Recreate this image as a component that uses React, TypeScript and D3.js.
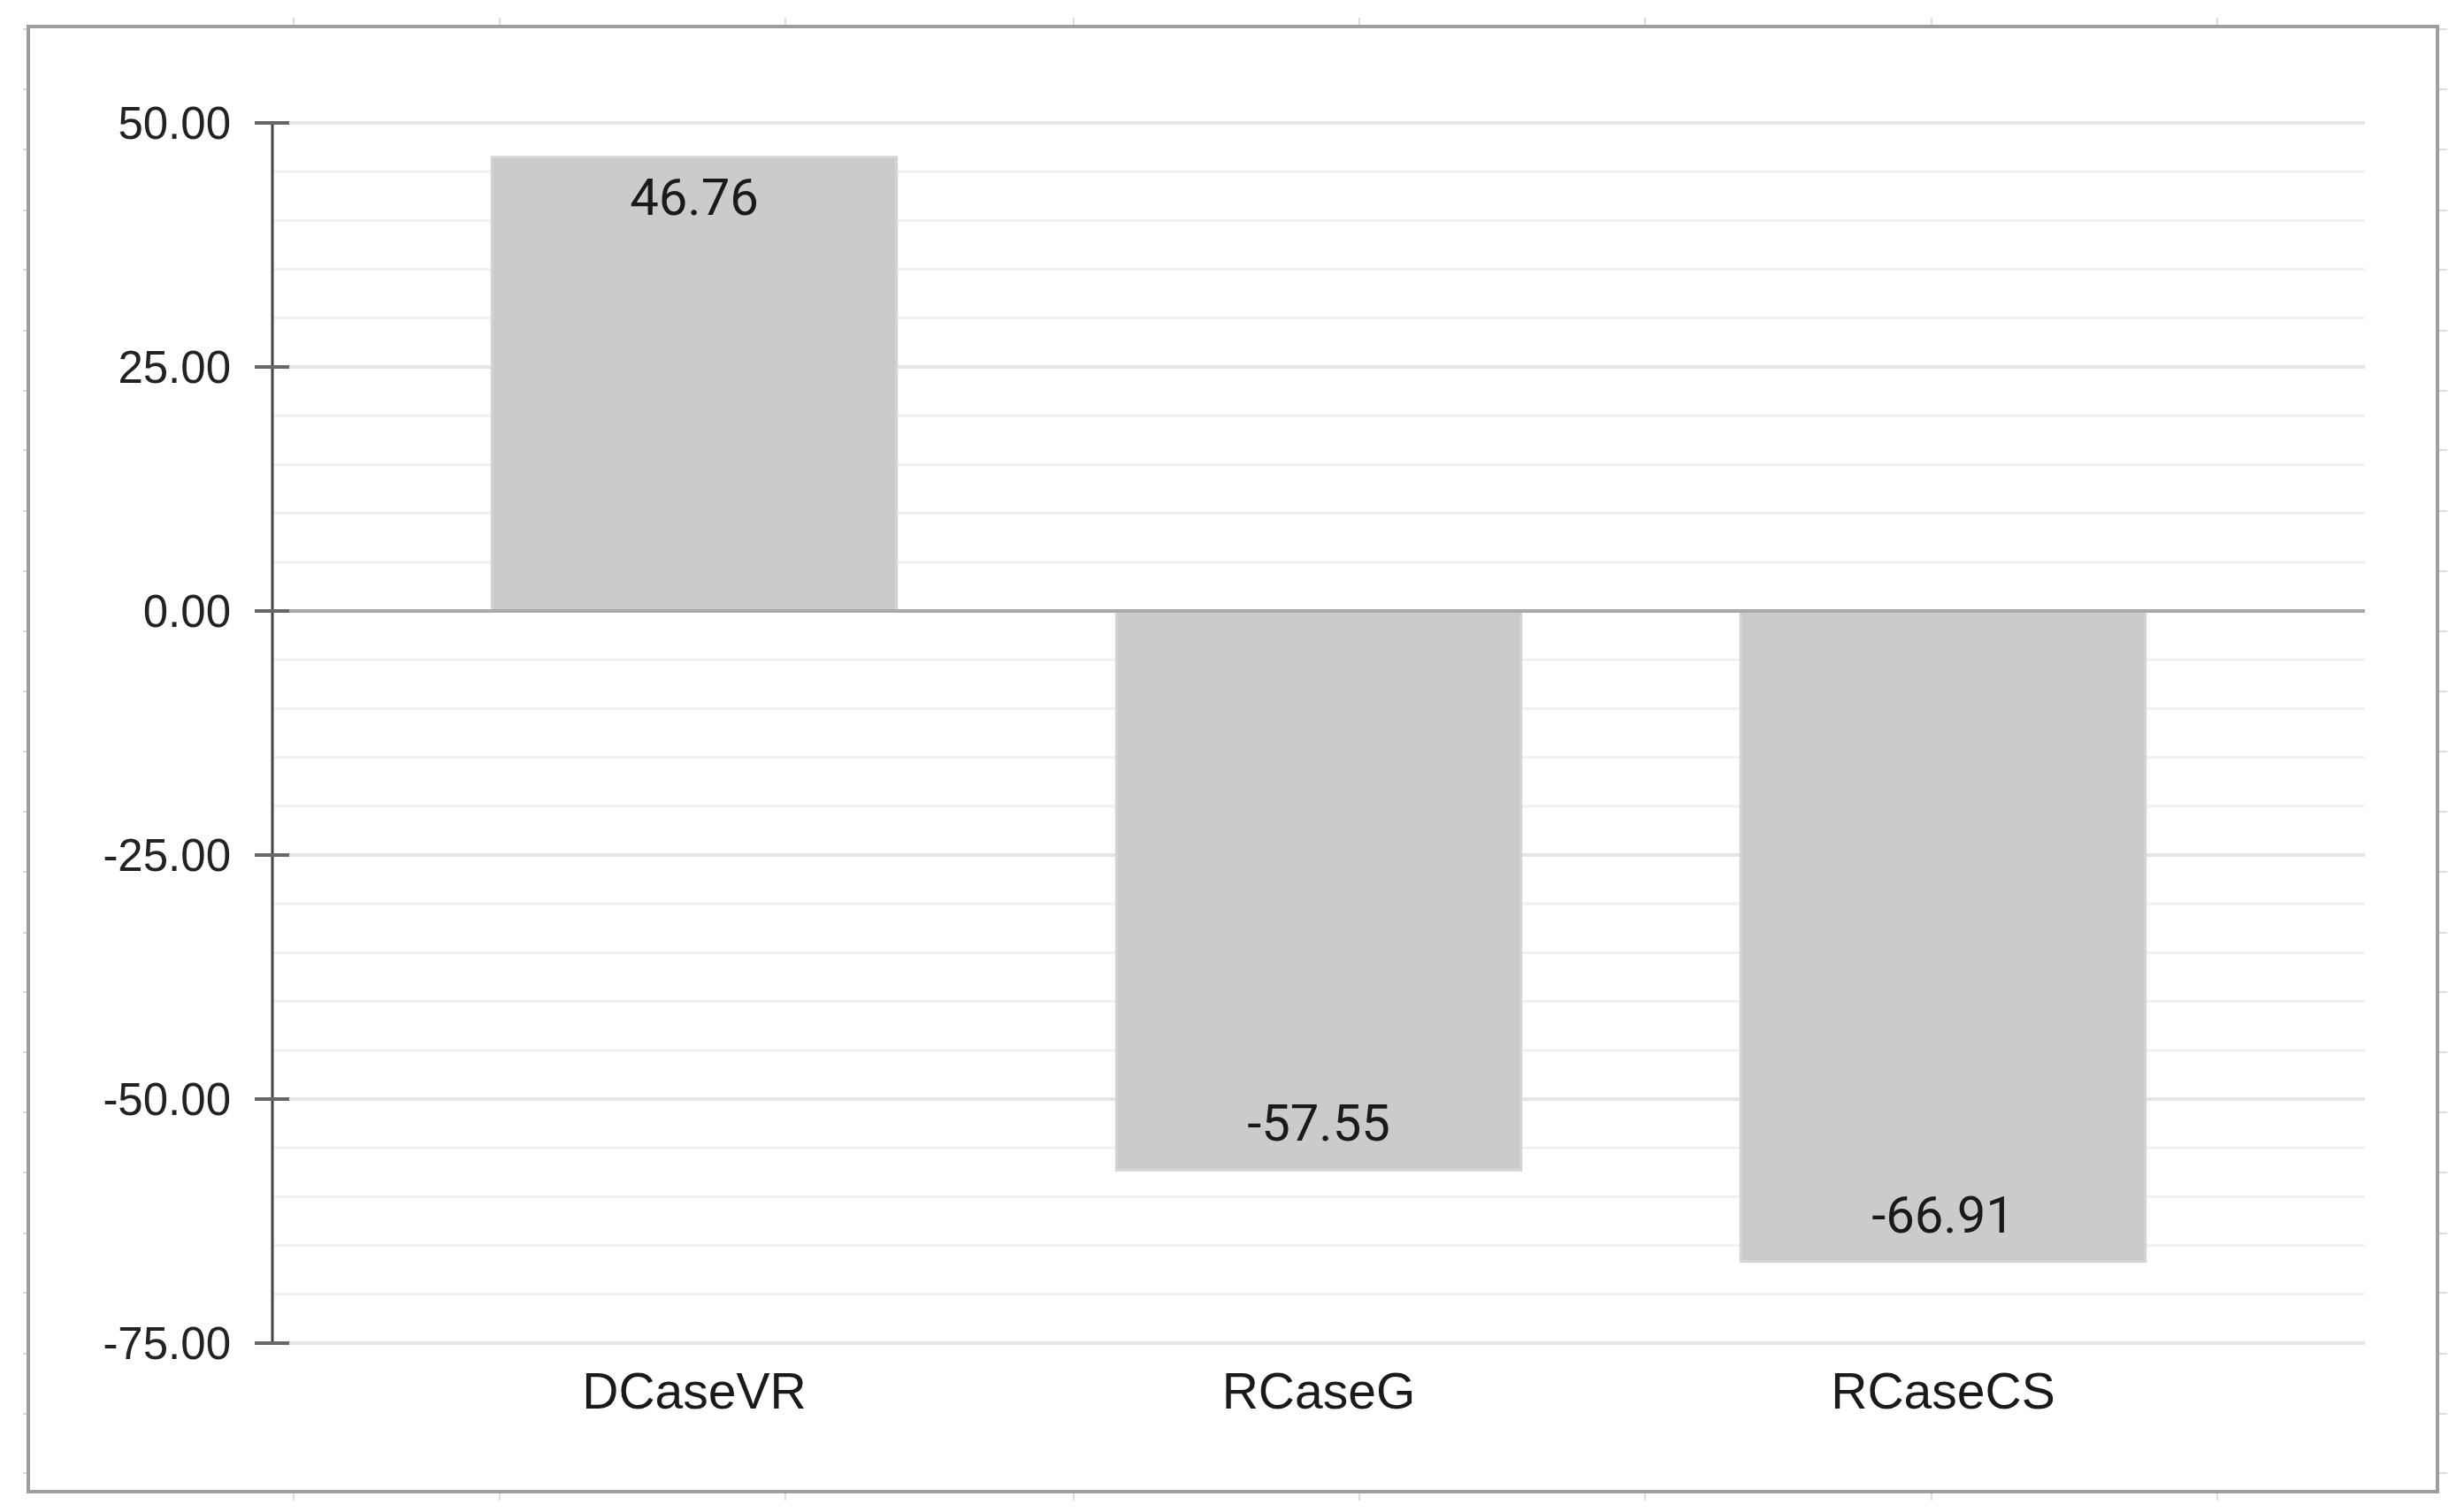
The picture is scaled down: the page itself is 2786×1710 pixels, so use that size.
import React from "react";
import * as d3 from "d3";

const categories = ["DCaseVR", "RCaseG", "RCaseCS"];
const values = [46.76, -57.55, -66.91];
const yMajorTicks = [50, 25, 0, -25, -50, -75];
const yGridTicks = d3.range(-75, 50.001, 5);
const frameTicksX = [332, 565, 888, 1214, 1537, 1860, 2184, 2507];
const frameTicksY = [33, 101, 169, 238, 305, 374, 442, 509, 578, 646, 714, 782, 850, 918, 986, 1055, 1122, 1190, 1258, 1326, 1395, 1462, 1531, 1599, 1666];

const W = 2786;
const H = 1710;
const frame = { left: 32, right: 2756, top: 30, bottom: 1687 };
const plot = { left: 308, right: 2674, top: 139, bottom: 1519 };

export default function App() {
  const y = d3.scaleLinear().domain([-75, 50]).range([plot.bottom, plot.top]);
  const x = d3
    .scaleBand<string>()
    .domain(categories)
    .range([432, 2550])
    .paddingInner(0.352)
    .paddingOuter(0.176);
  const f = d3.format(".2f");
  const fmt = (v: number) => f(v).replace("\u2212", "-");
  const edge = 3;

  return (
    <svg
      width={W}
      height={H}
      viewBox={`0 0 ${W} ${H}`}
      style={{ position: "absolute", left: 0, top: 0, display: "block", background: "#fff" }}
    >
      <rect x={0} y={0} width={W} height={H} fill="#ffffff" />
      {frameTicksX.map((fx, i) => (
        <g key={"fx" + i} stroke="#dcdcdc" strokeWidth={2}>
          <line x1={fx} x2={fx} y1={20} y2={frame.top} />
          <line x1={fx} x2={fx} y1={frame.bottom} y2={frame.bottom + 10} />
        </g>
      ))}
      {frameTicksY.map((fy, i) => (
        <g key={"fy" + i} stroke="#dcdcdc" strokeWidth={2}>
          <line x1={26} x2={frame.left} y1={fy} y2={fy} />
          <line x1={frame.right} x2={frame.right + 11} y1={fy} y2={fy} />
        </g>
      ))}
      <rect
        x={frame.left}
        y={frame.top}
        width={frame.right - frame.left}
        height={frame.bottom - frame.top}
        fill="#ffffff"
        stroke="#9e9e9e"
        strokeWidth={4}
      />
      {yGridTicks.map((t) => {
        const major = Math.round(t) % 25 === 0;
        if (Math.round(t) === 0) return null;
        return (
          <line
            key={"g" + t}
            x1={plot.left}
            x2={plot.right}
            y1={y(t)}
            y2={y(t)}
            stroke={major ? "#e4e4e4" : "#f0f0f0"}
            strokeWidth={major ? 4 : 3}
          />
        );
      })}
      {categories.map((c, i) => {
        const v = values[i];
        const yv = y(v) + (v >= 0 ? edge : -edge);
        const y0 = Math.min(yv, y(0));
        const y1 = Math.max(yv, y(0));
        return (
          <rect
            key={"b" + c}
            x={x(c)!}
            y={y0}
            width={x.bandwidth()}
            height={y1 - y0}
            fill="#cbcbcb"
            stroke="#d4d4d4"
            strokeWidth={3}
          />
        );
      })}
      <line x1={plot.left} x2={plot.right} y1={y(0)} y2={y(0)} stroke="#a9a9a9" strokeWidth={4} />
      <line x1={plot.left} x2={plot.left} y1={y(50)} y2={y(-75)} stroke="#444444" strokeWidth={3} />
      {yMajorTicks.map((t) => (
        <g key={"t" + t}>
          <line x1={plot.left - 20} x2={plot.left + 19} y1={y(t)} y2={y(t)} stroke="#666666" strokeWidth={4} />
          <text
            x={261}
            y={y(t) + 18}
            textAnchor="end"
            fontFamily="'Liberation Sans', Arial, sans-serif"
            fontSize={51}
            fill="#222222"
          >
            {fmt(t)}
          </text>
        </g>
      ))}
      {categories.map((c, i) => {
        const v = values[i];
        const cx = x(c)! + x.bandwidth() / 2;
        const ty = v >= 0 ? y(v) + 68 : y(v) - 36;
        return (
          <text
            key={"v" + c}
            x={cx}
            y={ty}
            textAnchor="middle"
            fontFamily="Roboto, 'Liberation Sans', sans-serif"
            fontSize={58}
            fill="#1a1a1a"
          >
            {fmt(v)}
          </text>
        );
      })}
      {categories.map((c) => (
        <text
          key={"c" + c}
          x={x(c)! + x.bandwidth() / 2}
          y={plot.bottom + 74}
          textAnchor="middle"
          fontFamily="'Liberation Sans', Arial, sans-serif"
          fontSize={57}
          fill="#1a1a1a"
        >
          {c}
        </text>
      ))}
    </svg>
  );
}
